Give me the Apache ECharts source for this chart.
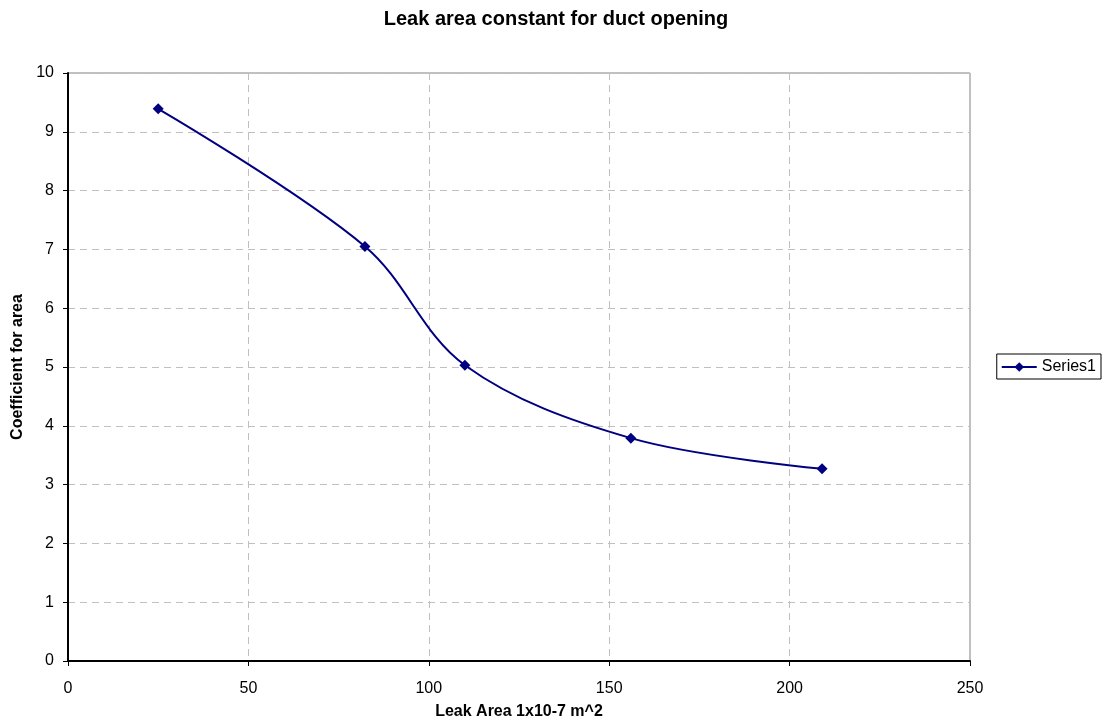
<!DOCTYPE html>
<html>
<head>
<meta charset="utf-8">
<script src="https://cdn.jsdelivr.net/npm/echarts@6/dist/echarts.min.js"></script>
<style>
  html, body { margin: 0; padding: 0; background: #fff; }
  #chart { width: 1112px; height: 727px; }
</style>
</head>
<body>
<div id="chart"></div>
<script>
// Leak area (x 1e-7 m^2) against the area coefficient
const leakArea = [25, 82.3, 110, 156, 209];
const coefficient = [9.39, 7.05, 5.03, 3.79, 3.27];
const xTicks = [0, 50, 100, 150, 200, 250];
const yTicks = [0, 1, 2, 3, 4, 5, 6, 7, 8, 9, 10];

const font = 'Arial, "Liberation Sans", sans-serif';
const chart = echarts.init(document.getElementById('chart'));

chart.setOption({
  animation: false,
  backgroundColor: '#ffffff',
  title: {
    text: 'Leak area constant for duct opening',
    left: 'center',
    top: 4,
    textStyle: { fontFamily: font, fontSize: 20, fontWeight: 'bold', color: '#000' }
  },
  legend: {
    data: ['Series1'],
    right: 11,
    top: 354,
    orient: 'vertical',
    borderColor: '#000',
    borderWidth: 1,
    borderRadius: 0,
    padding: [5, 5, 4, 4],
    itemWidth: 35,
    itemHeight: 12,
    textStyle: { fontFamily: font, fontSize: 16, color: '#000' }
  },
  grid: {
    left: 68, right: 142, top: 73, bottom: 66,
    show: true,
    borderColor: '#808080',
    borderWidth: 1,
    backgroundColor: '#fff'
  },
  xAxis: {
    type: 'value',
    min: xTicks[0],
    max: xTicks[xTicks.length - 1],
    interval: 50,
    name: 'Leak Area 1x10-7 m^2',
    nameLocation: 'middle',
    nameGap: 43,
    nameTextStyle: { fontFamily: font, fontSize: 16, fontWeight: 'bold', color: '#000' },
    axisLine: { show: true, lineStyle: { color: '#000', width: 2 } },
    axisTick: { show: true, length: 5, lineStyle: { color: '#000' } },
    axisLabel: { fontFamily: font, fontSize: 16, color: '#000', margin: 20 },
    splitLine: { show: true, lineStyle: { color: '#c0c0c0', type: [7, 5] } }
  },
  yAxis: {
    type: 'value',
    min: yTicks[0],
    max: yTicks[yTicks.length - 1],
    interval: 1,
    name: 'Coefficient for area',
    nameLocation: 'middle',
    nameGap: 40,
    nameTextStyle: { fontFamily: font, fontSize: 16, fontWeight: 'bold', color: '#000' },
    axisLine: { show: true, lineStyle: { color: '#000', width: 2 } },
    axisTick: { show: true, length: 5, lineStyle: { color: '#000' } },
    axisLabel: { fontFamily: font, fontSize: 16, color: '#000', margin: 14 },
    splitLine: { show: true, lineStyle: { color: '#c0c0c0', type: [7, 5] } }
  },
  series: [{
    name: 'Series1',
    type: 'line',
    smooth: 0.35,
    data: leakArea.map((x, i) => [x, coefficient[i]]),
    symbol: 'diamond',
    symbolSize: 11,
    lineStyle: { color: '#000080', width: 2 },
    itemStyle: { color: '#000080' }
  }]
});
</script>
</body>
</html>
